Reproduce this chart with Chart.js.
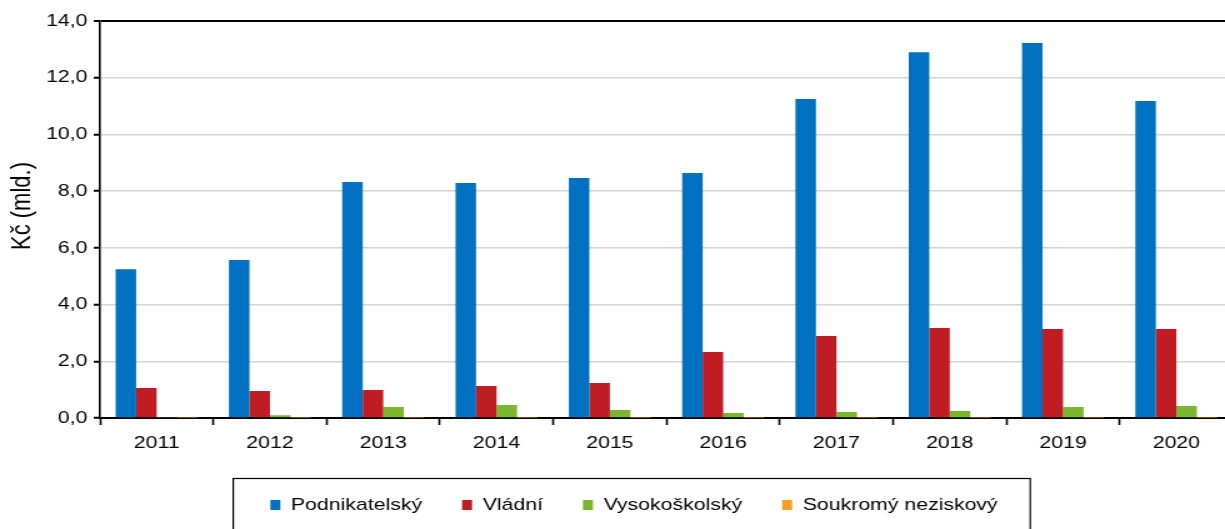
<!DOCTYPE html>
<html lang="cs">
<head>
  <meta charset="UTF-8">
  <title>Výdaje na VaV</title>
  <script src="https://cdn.jsdelivr.net/npm/chart.js"></script>
  <style>
    html, body { margin: 0; padding: 0; background: #fff; overflow: hidden; }
    /* původní graf je vodorovně roztažený, proto scaleX */
    #wrap { width: 1008px; height: 529px; transform: scaleX(1.25); transform-origin: 0 0; }
  </style>
</head>
<body>
  <div id="wrap"><canvas id="vavChart" width="1008" height="529"></canvas></div>
  <script>
    // roky
    const years = ['2011', '2012', '2013', '2014', '2015', '2016', '2017', '2018', '2019', '2020'];

    // hodnoty v mld. Kč
    const podnikatelsky = [5.25, 5.57, 8.32, 8.29, 8.46, 8.64, 11.25, 12.90, 13.22, 11.18];
    const vladni = [1.06, 0.95, 0.99, 1.13, 1.23, 2.33, 2.89, 3.17, 3.14, 3.14];
    const vysokoskolsky = [0.02, 0.10, 0.39, 0.46, 0.28, 0.18, 0.21, 0.25, 0.39, 0.42];
    const soukromy = [0.01, 0.01, 0.01, 0.01, 0.01, 0.01, 0.01, 0.01, 0.01, 0.01];

    const yTicks = [0, 2, 4, 6, 8, 10, 12, 14];
    const yTitle = 'Kč (mld.)';

    // rámeček kolem legendy + popisek osy y
    const extras = {
      id: 'extras',
      afterDraw(chart) {
        const c = chart.ctx;
        c.save();
        c.strokeStyle = '#000';
        c.lineWidth = 1.2;
        c.strokeRect(186.6, 478.5, 637.6, 60);
        c.translate(18, 206);
        c.rotate(-Math.PI / 2);
        c.fillStyle = '#000';
        c.font = '22px "Liberation Sans", Arial, sans-serif';
        c.textAlign = 'center';
        c.textBaseline = 'middle';
        c.fillText(yTitle, 0, 0);
        c.restore();
      }
    };

    const font = { family: 'Liberation Sans, Arial, sans-serif', size: 17 };

    new Chart(document.getElementById('vavChart'), {
      type: 'bar',
      data: {
        labels: years,
        datasets: [
          { label: 'Podnikatelský', data: podnikatelsky, backgroundColor: '#0070C0' },
          { label: 'Vládní', data: vladni, backgroundColor: '#C01C24' },
          { label: 'Vysokoškolský', data: vysokoskolsky, backgroundColor: '#7AB72E' },
          { label: 'Soukromý neziskový', data: soukromy, backgroundColor: '#F5A021' }
        ]
      },
      options: {
        responsive: false,
        animation: false,
        categoryPercentage: 0.724,
        barPercentage: 1,
        layout: { padding: { left: 28, right: 21.6, top: 21, bottom: 5.5 } },
        plugins: {
          tooltip: { enabled: false },
          legend: {
            position: 'bottom',
            labels: {
              color: '#000',
              font: font,
              boxWidth: 8,
              boxHeight: 10,
              padding: 32
            }
          }
        },
        scales: {
          x: {
            afterFit: (axis) => { axis.height = 46.5; },
            ticks: { color: '#000', font: font, padding: 8 },
            grid: {
              offset: true,
              drawOnChartArea: false,
              tickLength: 7,
              tickColor: '#000',
              tickWidth: 1.6
            },
            border: { color: '#000', width: 2 }
          },
          y: {
            min: 0,
            max: 14,
            afterBuildTicks: (axis) => { axis.ticks = yTicks.map(v => ({ value: v })); },
            afterFit: (axis) => { axis.width = 52; },
            ticks: {
              color: '#000',
              font: font,
              padding: 5,
              callback: (v) => v.toFixed(1).replace('.', ',')
            },
            grid: {
              color: (ctx) => ctx.tick && ctx.tick.value === 14 ? '#000' : '#d4d4d4',
              lineWidth: (ctx) => ctx.tick && ctx.tick.value === 14 ? 2 : 1.5,
              tickLength: 5,
              tickColor: '#000',
              tickWidth: 2
            },
            border: { color: '#000', width: 1.6 }
          }
        }
      },
      plugins: [extras]
    });
  </script>
</body>
</html>
